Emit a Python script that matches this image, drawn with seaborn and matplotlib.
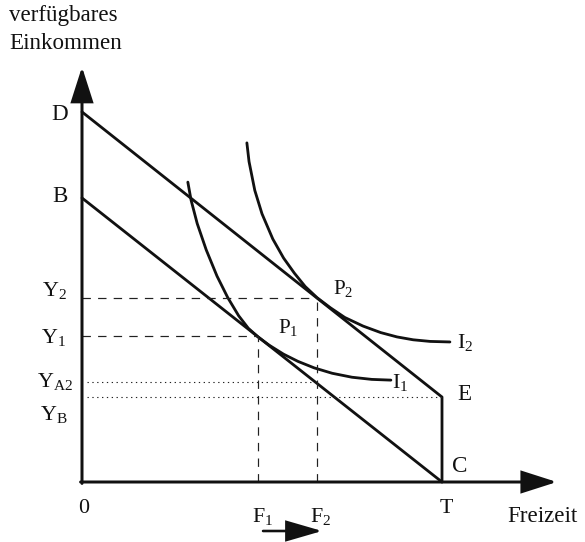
# Freizeit / Einkommen - Budgetgerade und Indifferenzkurven

import matplotlib.pyplot as plt
import seaborn as sns
from matplotlib.transforms import offset_copy

# --- Werte (Einheiten: Freizeit 0..T) ---
T = 10.0
D_val = 10.28          # Achsenabschnitt Budgetgerade 2
B_val = 7.89           # Achsenabschnitt Budgetgerade 1
Y_B = 2.36             # Knick E
Y_A2 = 2.78
Y_1 = 4.05
Y_2 = 5.11
F_1 = 4.89
F_2 = 6.53
YA2_end = 6.47         # Schnitt der punktierten Linie mit Budgetgerade 1

budget1_x = [0, T]
budget1_y = [B_val, 0]
budget2_x = [0, T, T]
budget2_y = [D_val, Y_B, 0]

i1_x = [2.94, 3.03, 3.20, 3.45, 3.75, 4.05, 4.35, 4.62, 4.89, 5.20, 5.60,
        6.00, 6.45, 6.95, 7.50, 8.05, 8.58]
i1_y = [8.33, 7.83, 7.18, 6.45, 5.72, 5.12, 4.62, 4.27, 4.03, 3.80, 3.55,
        3.35, 3.17, 3.02, 2.91, 2.85, 2.83]

i2_x = [4.58, 4.64, 4.80, 5.00, 5.30, 5.60, 5.90, 6.20, 6.53, 6.90, 7.30,
        7.81, 8.30, 8.75, 9.20, 9.67, 10.22]
i2_y = [9.42, 8.90, 8.10, 7.45, 6.75, 6.22, 5.80, 5.43, 5.12, 4.84, 4.57,
        4.33, 4.15, 4.03, 3.95, 3.905, 3.89]

# --- Layout ---
PX = 36.0              # Pixel pro Einheit
X0, Y0 = 82, 482       # Ursprung in Pixeln
W, H = 585, 542
y_top = 11.53
x_end = 13.19

sns.set_theme(style="white")
plt.rcParams["font.family"] = ["Liberation Serif", "DejaVu Serif"]
plt.rcParams["mathtext.fontset"] = "custom"
plt.rcParams["mathtext.rm"] = "Liberation Serif"
plt.rcParams["mathtext.it"] = "Liberation Serif:italic"

fig = plt.figure(figsize=(W / 72, H / 72), dpi=72)
ax = fig.add_axes([0, 0, 1, 1])
ax.set_xlim(-X0 / PX, (W - X0) / PX)
ax.set_ylim(-(H - Y0) / PX, Y0 / PX)
ax.axis("off")

ink = "#111111"
lw_main = 2.8

# Achsen mit Pfeilen
axis_arrow = dict(arrowstyle="-|>,head_length=1.5,head_width=0.48", mutation_scale=20,
                  lw=3, color=ink, shrinkA=0, shrinkB=0, joinstyle="miter")
ax.annotate("", xy=(0, y_top), xytext=(0, -0.04), arrowprops=axis_arrow)
ax.annotate("", xy=(x_end, 0), xytext=(-0.04, 0), arrowprops=axis_arrow)

# Budgetgeraden
sns.lineplot(x=budget1_x, y=budget1_y, ax=ax, color=ink, lw=lw_main, sort=False, estimator=None)
sns.lineplot(x=budget2_x, y=budget2_y, ax=ax, color=ink, lw=lw_main, sort=False, estimator=None)

# Indifferenzkurven
sns.lineplot(x=i1_x, y=i1_y, ax=ax, color=ink, lw=lw_main, sort=False, estimator=None)
sns.lineplot(x=i2_x, y=i2_y, ax=ax, color=ink, lw=lw_main, sort=False, estimator=None)

# gestrichelte Hilfslinien
dash = dict(color="#222222", lw=1.2, dashes=(7, 6))
ax.plot([0, F_1], [Y_1, Y_1], **dash)
ax.plot([F_1, F_1], [0, Y_1], **dash)
ax.plot([0, F_2], [Y_2, Y_2], **dash)
ax.plot([F_2, F_2], [0, Y_2], **dash)

# punktierte Linien
dot = dict(color="#222222", lw=1.1, dashes=(1.2, 3.2))
ax.plot([0.15, YA2_end], [Y_A2, Y_A2], **dot)
ax.plot([0.15, T], [Y_B, Y_B], **dot)

# Pfeil F1 -> F2
shift = offset_copy(ax.transData, fig=fig, x=5, y=-49, units="dots")
ax.annotate("", xy=(F_2, 0), xytext=(F_1, 0), xycoords=shift, textcoords=shift,
            arrowprops=dict(arrowstyle="-|>,head_length=1.55,head_width=0.45",
                            mutation_scale=20, lw=2.6, color=ink,
                            shrinkA=0, shrinkB=0, joinstyle="miter"))


def label(txt, xy, off, size=22, ha="center", va="center"):
    ax.annotate(txt, xy=xy, xytext=off, textcoords="offset points",
                ha=ha, va=va, fontsize=size, color=ink)


# Achsentitel
fig.text(9 / W, 1 - 21 / H, "verfügbares", fontsize=23, color=ink, ha="left", va="baseline")
fig.text(9 / W, 1 - 49 / H, "Einkommen", fontsize=23, color=ink, ha="left", va="baseline")
label("Freizeit", (x_end, 0), (-50, -40), size=23, ha="left", va="baseline")

# Beschriftungen an der y-Achse
label("D", (0, D_val), (-22, -3), size=23)
label("B", (0, B_val), (-22, 1), size=23)
label(r"$\mathrm{Y}_2$", (0, Y_2), (-15, 2), ha="right", va="baseline")
label(r"$\mathrm{Y}_1$", (0, Y_1), (-16, -7), ha="right", va="baseline")
label(r"$\mathrm{Y}_{\mathrm{A2}}$", (0, Y_A2), (-9, -5), ha="right", va="baseline")
label(r"$\mathrm{Y}_{\mathrm{B}}$", (0, Y_B), (-14, -23), ha="right", va="baseline")

# Beschriftungen an der x-Achse
label("0", (0, 0), (2, -31), ha="center", va="baseline")
label(r"$\mathrm{F}_1$", (F_1, 0), (-6, -40), ha="left", va="baseline")
label(r"$\mathrm{F}_2$", (F_2, 0), (-7, -40), ha="left", va="baseline")
label("T", (T, 0), (4, -31), ha="center", va="baseline")

# Punkte und Kurven
label("C", (T, 0), (18, 16), size=23)
label("E", (T, Y_B), (22, 3), size=23)
label(r"$\mathrm{P}_1$", (F_1, Y_1), (20, 3), size=21, ha="left", va="baseline")
label(r"$\mathrm{P}_2$", (F_2, Y_2), (16, 4), size=21, ha="left", va="baseline")
label(r"$\mathrm{I}_1$", (i1_x[-1], i1_y[-1]), (1, -8), ha="left", va="baseline")
label(r"$\mathrm{I}_2$", (i2_x[-1], i2_y[-1]), (7, -6), ha="left", va="baseline")

fig.savefig("out.png", dpi=72)
plt.close(fig)
